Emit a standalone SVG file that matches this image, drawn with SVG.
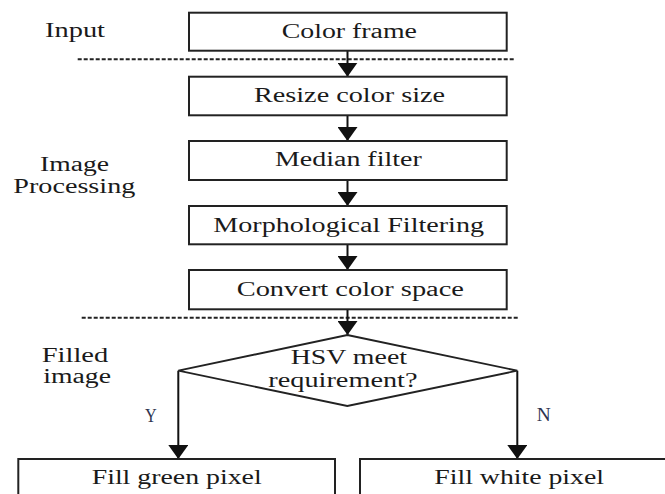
<svg xmlns="http://www.w3.org/2000/svg" width="665" height="494" viewBox="0 0 665 494">
<style>
.box{fill:#fff;stroke:#222;stroke-width:2}
.dia{fill:#fff;stroke:#222;stroke-width:1.8}
.t{font-family:"Liberation Serif","Times New Roman",serif;font-size:20px;fill:#1a1a1a}
.yn{font-family:"Liberation Serif","Times New Roman",serif;font-size:18px;fill:#2e3550}
.conn{stroke:#111;stroke-width:2;fill:none}
.dash{stroke:#222;stroke-width:2;stroke-dasharray:4 2;fill:none}
</style>
<defs>
<marker id="ah" viewBox="0 0 14 20" refX="14" refY="10" markerWidth="14" markerHeight="20" markerUnits="userSpaceOnUse" orient="auto">
<path d="M0,0 L14,10 L0,20 z" fill="#111"/>
</marker>
</defs>
<rect width="665" height="494" fill="#fff"/>
<g id="labels">
<text class="t" x="45" y="37" textLength="60" lengthAdjust="spacingAndGlyphs">Input</text>
<text class="t" x="40" y="170.7" textLength="69" lengthAdjust="spacingAndGlyphs">Image</text>
<text class="t" x="13.3" y="193.3" textLength="122" lengthAdjust="spacingAndGlyphs">Processing</text>
<text class="t" x="41.7" y="361.7" textLength="66.6" lengthAdjust="spacingAndGlyphs">Filled</text>
<text class="t" x="43.3" y="382.7" textLength="67.7" lengthAdjust="spacingAndGlyphs">image</text>
</g>
<g id="separators">
<line class="dash" x1="77.7" y1="59.3" x2="514" y2="59.3"/>
<line class="dash" x1="81.7" y1="317.7" x2="518" y2="317.7"/>
</g>
<g id="connectors">
<line class="conn" x1="347.5" y1="50.7" x2="347.5" y2="76.7" marker-end="url(#ah)"/>
<line class="conn" x1="347.5" y1="115.3" x2="347.5" y2="141" marker-end="url(#ah)"/>
<line class="conn" x1="347.5" y1="180" x2="347.5" y2="206" marker-end="url(#ah)"/>
<line class="conn" x1="347.5" y1="244.3" x2="347.5" y2="270" marker-end="url(#ah)"/>
<line class="conn" x1="347.5" y1="309.3" x2="347.5" y2="335" marker-end="url(#ah)"/>
<polyline class="conn" points="178.3,370.7 178.3,459" marker-end="url(#ah)"/>
<polyline class="conn" points="517.3,370.7 517.3,459" marker-end="url(#ah)"/>
<text class="yn" x="145" y="421.7" textLength="11.7" lengthAdjust="spacingAndGlyphs">Y</text>
<text class="yn" x="536.7" y="420.7" textLength="14" lengthAdjust="spacingAndGlyphs">N</text>
</g>
<g id="color-frame">
<rect class="box" x="189" y="12.7" width="317.7" height="38"/>
<text class="t" x="281.7" y="37.5" textLength="135.3" lengthAdjust="spacingAndGlyphs">Color frame</text>
</g>
<g id="resize">
<rect class="box" x="189" y="76.7" width="317.7" height="38.6"/>
<text class="t" x="254" y="101.7" textLength="191" lengthAdjust="spacingAndGlyphs">Resize color size</text>
</g>
<g id="median">
<rect class="box" x="189" y="141" width="317.7" height="39"/>
<text class="t" x="275" y="165.7" textLength="146.7" lengthAdjust="spacingAndGlyphs">Median filter</text>
</g>
<g id="morph">
<rect class="box" x="189" y="206" width="317.7" height="38.3"/>
<text class="t" x="213.3" y="231.5" textLength="270.7" lengthAdjust="spacingAndGlyphs">Morphological Filtering</text>
</g>
<g id="convert">
<rect class="box" x="189" y="270" width="317.7" height="39.3"/>
<text class="t" x="236.7" y="295.5" textLength="227.3" lengthAdjust="spacingAndGlyphs">Convert color space</text>
</g>
<g id="decision">
<polygon class="dia" points="347.3,335 517.3,370.7 347.3,406 178.3,370.7"/>
<text class="t" x="290.7" y="363.5" textLength="116.3" lengthAdjust="spacingAndGlyphs">HSV meet</text>
<text class="t" x="268.3" y="386.8" textLength="149.2" lengthAdjust="spacingAndGlyphs">requirement?</text>
</g>
<g id="fill-green">
<rect class="box" x="18.3" y="459" width="316.7" height="45"/>
<text class="t" x="91.7" y="484" textLength="170" lengthAdjust="spacingAndGlyphs">Fill green pixel</text>
</g>
<g id="fill-white">
<rect class="box" x="360" y="459" width="316" height="45"/>
<text class="t" x="434.3" y="484" textLength="169.7" lengthAdjust="spacingAndGlyphs">Fill white pixel</text>
</g>
</svg>
